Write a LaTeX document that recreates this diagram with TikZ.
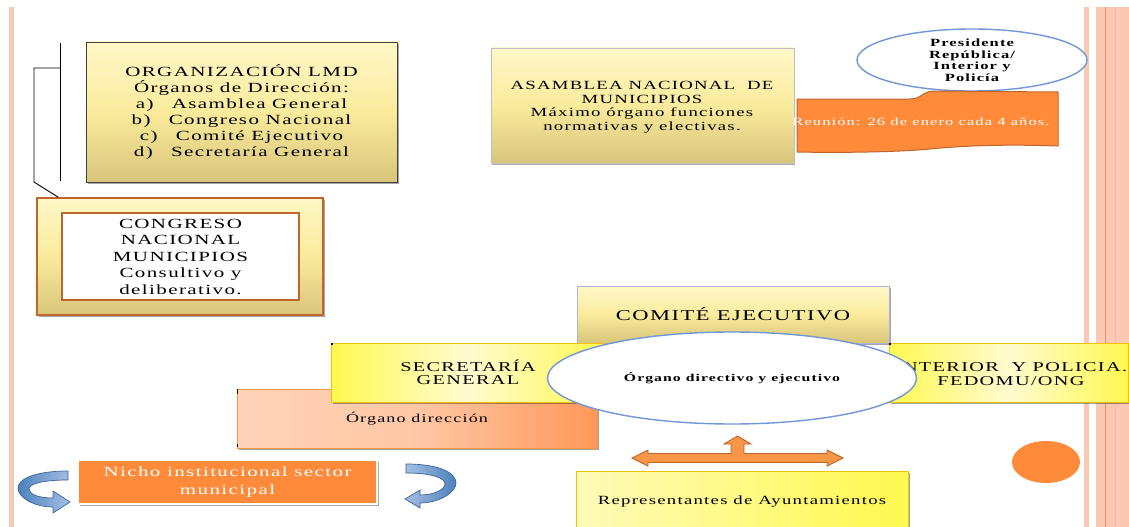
\documentclass[tikz,border=0pt]{standalone}
\usepackage{fontspec}
\setmainfont{Liberation Serif}[FakeStretch=1.5, LetterSpace=10]
\usetikzlibrary{shadows, shapes.geometric, calc}

\definecolor{stripe}{HTML}{FBC8B4}
\definecolor{stripeline}{HTML}{F4905E}
\definecolor{goldtop}{HTML}{FFF7C8}
\definecolor{goldmid}{HTML}{FAEB9C}
\definecolor{goldbot}{HTML}{D8C57A}
\definecolor{rust}{HTML}{C0652B}
\definecolor{orangefill}{HTML}{FF8A3A}
\definecolor{arroworange}{HTML}{F79646}
\definecolor{ellblue}{HTML}{7097D8}
\definecolor{brightyel}{HTML}{FFF950}
\definecolor{paleyel}{HTML}{FFFBD0}
\definecolor{yelborder}{HTML}{F2C200}
\definecolor{peach}{HTML}{FFD3B8}
\definecolor{peachdark}{HTML}{FF985A}
\definecolor{arrowblue}{HTML}{4F81BD}
\definecolor{arrowlight}{HTML}{A4C0E4}
\definecolor{arrowdark}{HTML}{3A649A}

\tikzset{
  softshadow/.style={drop shadow={shadow xshift=2pt, shadow yshift=-2pt, fill=black, opacity=0.35}},
  goldbox/.style={rectangle, inner sep=0pt, align=center, top color=goldtop, bottom color=goldbot, middle color=goldmid},
  sidebox/.style={rectangle, inner sep=0pt, align=center, draw=yelborder, line width=0.8pt,
    left color=brightyel, right color=brightyel, middle color=paleyel, softshadow},
  oval/.style={ellipse, inner sep=0pt, align=center, fill=white, draw=ellblue, line width=1.4pt},
  bracketline/.style={draw=black, line width=0.9pt},
}

\begin{document}
\begin{tikzpicture}[x=1pt, y=-1pt]
\useasboundingbox (0,0) rectangle (1129,527);
\fill[white] (0,0) rectangle (1129,527);

% decorative side stripes
\fill[stripe] (9.3,7) rectangle (14,527);
\fill[stripe] (1084.3,7) rectangle (1089,527);
\fill[stripe] (1095.7,7) rectangle (1129,527);
\fill[stripeline] (1104.8,7) rectangle (1106.4,527);
\fill[stripe!75!stripeline] (1114.5,7) rectangle (1115.8,527);

% organisation summary
\node[goldbox, draw=black!75, line width=0.9pt, softshadow, minimum width=311pt, minimum height=140pt,
      font=\fontsize{14}{16}\selectfont] (org) at (241.5,112)
  {ORGANIZACIÓN LMD\\Órganos de Dirección:\\a)\hspace{1.3em}Asamblea General\\b)\hspace{1.3em}Congreso Nacional\\c)\hspace{1.3em}Comité Ejecutivo\\d)\hspace{1.3em}Secretaría General};

% national congress
\node[goldbox, draw=rust, line width=1.6pt, softshadow, minimum width=286pt, minimum height=117pt] (congO) at (180,256.5) {};
\node[rectangle, fill=white, draw=rust, line width=1.6pt, minimum width=237pt, minimum height=87pt, align=center,
      font=\fontsize{14}{16.5}\selectfont] (congI) at (180.5,256.5)
  {CONGRESO\\NACIONAL\\MUNICIPIOS\\Consultivo y\\deliberativo.};

% bracket linking the summary to the congress
\coordinate (bTop) at (60,43);
\coordinate (bBot) at (60,181);
\coordinate (bMid) at (60,68);
\coordinate (bL) at (34,68);
\coordinate (bLB) at (34,182);
\draw[bracketline] (bTop) -- (bBot);
\draw[bracketline] (bMid) -- (bL) -- (bLB) -- ($(congO.north west)+(22,0)$);

% national assembly
\node[goldbox, draw=black!25, line width=0.8pt, drop shadow={shadow xshift=1pt, shadow yshift=-1.5pt, fill=black, opacity=0.3},
      minimum width=303pt, minimum height=115pt] (asam) at (642.5,105.5) {};
\node[align=center, font=\fontsize{12.5}{13.5}\selectfont] (asamT) at (642,107)
  {ASAMBLEA NACIONAL\ \ DE\\MUNICIPIOS\\Máximo órgano funciones\\normativas y electivas.};

% president oval and meeting banner
\node[oval, minimum width=230pt, minimum height=62pt, font=\bfseries\fontsize{11}{11.5}\selectfont] (pres) at (972,60)
  {Presidente\\República/\\Interior y\\Policía};
\path[fill=orangefill, draw=rust, line width=1pt]
  (797,99) -- (910,99) .. controls (922,99) and (922,91) .. (935,91) -- (1058,92)
  -- (1058,146) .. controls (1000,144) and (960,146) .. (930,149)
  .. controls (900,152) and (840,153) .. (797,152) -- cycle;
\node[text=white, font=\fontsize{11}{12}\selectfont] (meet) at (921,122) {Reunión: 26 de enero cada 4 años.};

% executive committee group
\node[goldbox, draw=black!45!blue!30, line width=0.8pt, softshadow, minimum width=312pt, minimum height=57pt,
      font=\fontsize{15}{16}\selectfont] (comite) at (733,314.5) {COMITÉ EJECUTIVO};
\node[rectangle, inner sep=0pt, draw=arroworange, line width=0.8pt, left color=peach, right color=peachdark,
      middle color=peach!80!peachdark, softshadow, minimum width=360pt, minimum height=59pt,
      font=\fontsize{12}{13}\selectfont] (dir) at (417,418.5) {Órgano dirección};
\node[sidebox, minimum width=274pt, minimum height=59pt, font=\fontsize{13.5}{13.5}\selectfont] (secr) at (468,372.5)
  {SECRETARÍA\\GENERAL};
\node[sidebox, minimum width=239pt, minimum height=59pt] (inter) at (1008.5,372.5) {};
\node[align=center, font=\fontsize{13.5}{14}\selectfont] (interT) at (1011,374)
  {INTERIOR\ \ Y POLICIA.\\FEDOMU/ONG};
\fill[black] (dir.north west) rectangle ++(1.5,5);
\fill[black] ($(dir.south west)+(0,-4)$) rectangle ++(1.5,3);
\fill[black] (secr.north west) rectangle ++(2,2);
\fill[black] (inter.north west) rectangle ++(2,2);
\node[oval, minimum width=369pt, minimum height=92pt, font=\bfseries\fontsize{10.5}{12}\selectfont] (ell) at (732,378)
  {Órgano directivo y ejecutivo};

% three-way arrow above the councils box
\path[fill=arroworange, draw=rust, line width=0.9pt]
  (632,458) -- (648,450) -- (648,453.5) -- (731,453.5) -- (731,444) -- (724,444) -- (737.5,436)
  -- (751,444) -- (744,444) -- (744,453.5) -- (827,453.5) -- (827,450) -- (843,458)
  -- (827,466) -- (827,462.5) -- (648,462.5) -- (648,466) -- cycle;

\node[rectangle, inner sep=0pt, draw=yelborder, line width=0.8pt, left color=paleyel!80!brightyel, right color=brightyel,
      softshadow, minimum width=332pt, minimum height=62pt, font=\fontsize{12.5}{13}\selectfont] (rep) at (742,502)
  {Representantes de Ayuntamientos};

\node[ellipse, fill=orangefill, minimum width=68pt, minimum height=42pt, inner sep=0pt] (dot) at (1046,462) {};

% municipal niche with turning arrows
\path[left color=arrowblue, right color=arrowlight, draw=arrowdark, line width=0.7pt]
  (68,471) .. controls (35,471) and (18,479) .. (18,488) .. controls (18,498) and (35,507) .. (53,507)
  -- (53,513) -- (70,502) -- (53,491) -- (53,498) .. controls (38,498) and (29,494) .. (29,489)
  .. controls (29,484) and (42,480) .. (68,480) -- cycle;
\path[left color=arrowlight, right color=arrowblue, draw=arrowdark, line width=0.7pt]
  (406,464) .. controls (440,464) and (456,473) .. (456,483) .. controls (456,493) and (438,503) .. (420,503)
  -- (420,508) -- (405,499) -- (420,490) -- (420,495) .. controls (435,495) and (445,489) .. (445,484)
  .. controls (445,478) and (432,473) .. (406,473) -- cycle;
\node[rectangle, fill=orangefill, draw=white, line width=1.5pt, softshadow, minimum width=299pt, minimum height=44pt,
      inner sep=0pt, align=center, text=white, font=\fontsize{14}{18}\selectfont] (nicho) at (227.5,482)
  {Nicho institucional sector\\municipal};
\end{tikzpicture}
\end{document}
